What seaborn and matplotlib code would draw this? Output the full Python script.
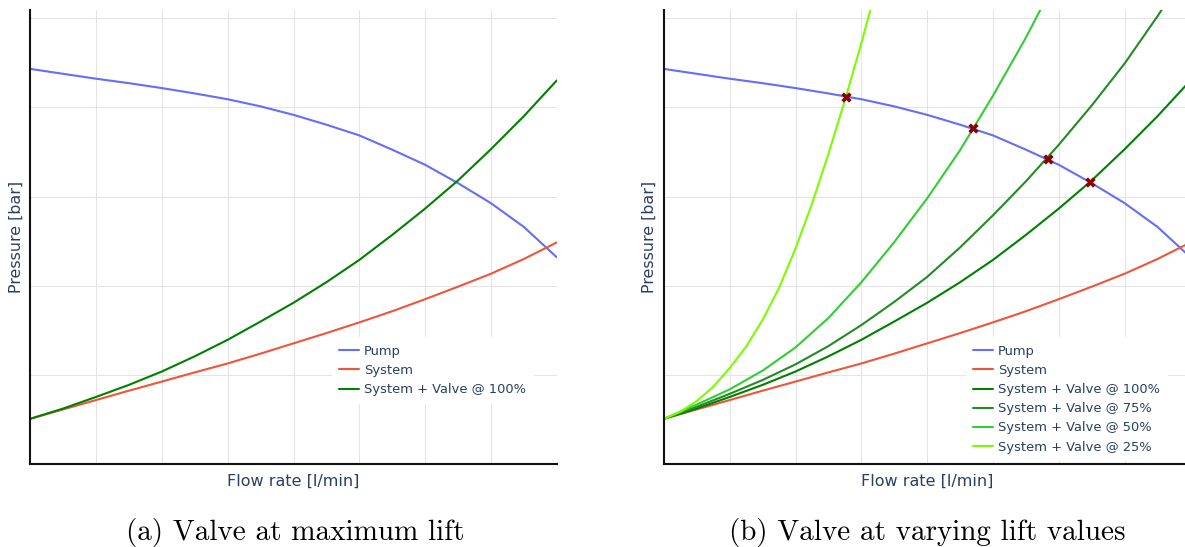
import numpy as np
import pandas as pd
import matplotlib
matplotlib.use("Agg")
import matplotlib.pyplot as plt
import seaborn as sns

# ---------------- data ----------------
x_half = [0, 0.5, 1, 1.5, 2, 2.5, 3, 3.5, 4, 4.5, 5, 5.5, 6, 6.5, 7, 7.5, 8]
pump = [4.43, 4.375, 4.32, 4.27, 4.215, 4.155, 4.09, 4.01, 3.915, 3.805, 3.685,
        3.525, 3.356, 3.15, 2.926, 2.66, 2.32]
system = [0.51, 0.615, 0.72, 0.825, 0.927, 1.03, 1.13, 1.24, 1.355, 1.47, 1.59,
          1.715, 1.85, 1.99, 2.135, 2.30, 2.485]
valve_100 = [0.51, 0.625, 0.755, 0.89, 1.04, 1.21, 1.395, 1.60, 1.81, 2.04, 2.29,
             2.57, 2.865, 3.18, 3.53, 3.90, 4.30]
valve_75 = [0.51, 0.645, 0.79, 0.945, 1.12, 1.325, 1.56, 1.82, 2.10, 2.43, 2.79,
            3.17, 3.58, 4.02, 4.49, 5.02, 5.58]
x_50 = [0, 0.5, 1, 1.5, 2, 2.5, 3, 3.5, 4, 4.5, 5, 5.5, 6]
valve_50 = [0.51, 0.67, 0.84, 1.05, 1.31, 1.64, 2.04, 2.49, 2.98, 3.52, 4.13, 4.78, 5.49]
x_25 = [0, 0.25, 0.5, 0.75, 1, 1.25, 1.5, 1.75, 2, 2.25, 2.5, 2.75, 3, 3.25]
valve_25 = [0.51, 0.59, 0.71, 0.87, 1.08, 1.32, 1.62, 1.98, 2.42, 2.92, 3.48, 4.08, 4.72, 5.40]

op_x = [2.76, 4.69, 5.84, 6.48]
op_y = [4.11, 3.77, 3.42, 3.16]

names = ["Pump", "System", "System + Valve @ 100%", "System + Valve @ 75%",
         "System + Valve @ 50%", "System + Valve @ 25%"]
colors = ["#636EFA", "#EF553B", "#008000", "#228B22", "#32CD32", "#7CFC00"]

def frame(x, y, name):
    return pd.DataFrame({"Flow": x, "Pressure": y, "Series": name})

df_all = pd.concat([
    frame(x_half, pump, names[0]),
    frame(x_half, system, names[1]),
    frame(x_half, valve_100, names[2]),
    frame(x_half, valve_75, names[3]),
    frame(x_50, valve_50, names[4]),
    frame(x_25, valve_25, names[5]),
], ignore_index=True)
df_ops = pd.DataFrame({"Flow": op_x, "Pressure": op_y})

# ---------------- style ----------------
sns.set_theme(style="white")
plt.rcParams["font.family"] = ["DejaVu Sans"]

W, H = 1185, 547
fig = plt.figure(figsize=(W / 100, H / 100), dpi=100)

def px_axes(left, top, right, bottom):
    return fig.add_axes([left / W, 1 - bottom / H, (right - left) / W, (bottom - top) / H])

ax1 = px_axes(30.3, 10, 556.7, 464.3)
ax2 = px_axes(664, 10, 1190.4, 464.3)

label_color = "#2a3f5f"
grid_color = "#e4e4e4"

def style_axes(ax):
    ax.set_xlim(0, 8)
    ax.set_ylim(0, 5.09)
    ax.set_xticks(range(1, 8))
    ax.set_yticks(range(1, 6))
    ax.set_xticklabels([])
    ax.set_yticklabels([])
    ax.tick_params(length=0, pad=0)
    ax.grid(True, color=grid_color, linewidth=0.75)
    ax.set_axisbelow(True)
    for s in ["top", "right"]:
        ax.spines[s].set_visible(False)
    for s in ["left", "bottom"]:
        ax.spines[s].set_color("#111111")
        ax.spines[s].set_linewidth(1.5)
    ax.set_xlabel("Flow rate [l/min]", color=label_color, fontsize=11.5, labelpad=7)
    ax.set_ylabel("Pressure [bar]", color=label_color, fontsize=11.4, labelpad=5)

# Left panel: pump, system, valve at 100 %
left_names = names[:3]
sns.lineplot(data=df_all[df_all["Series"].isin(left_names)], x="Flow", y="Pressure",
             hue="Series", hue_order=left_names, palette=colors[:3],
             linewidth=1.5, ax=ax1, sort=False, estimator=None)
style_axes(ax1)
h1, l1 = ax1.get_legend_handles_labels()

# Right panel: all lift values + operating points
sns.lineplot(data=df_all, x="Flow", y="Pressure", hue="Series", hue_order=names,
             palette=colors, linewidth=1.5, ax=ax2, sort=False, estimator=None)
sns.scatterplot(data=df_ops, x="Flow", y="Pressure", marker="X", color="#8B0000",
                s=55, linewidth=0, ax=ax2, zorder=5, legend=False)
style_axes(ax2)
h2, l2 = ax2.get_legend_handles_labels()

leg_kw = dict(loc="upper left", bbox_transform=fig.transFigure, borderaxespad=0,
              frameon=True, facecolor="white", edgecolor="none", framealpha=1,
              fancybox=False, fontsize=9.4, handlelength=1.54, handletextpad=0.36,
              labelspacing=0.47, borderpad=0.6, labelcolor=label_color)
leg1 = ax1.legend(h1, l1, bbox_to_anchor=(331.5 / W, 1 - 337 / H), **leg_kw)
leg2 = ax2.legend(h2, l2, bbox_to_anchor=(965.5 / W, 1 - 337 / H), **leg_kw)
for leg in (leg1, leg2):
    for ln in leg.get_lines():
        ln.set_linewidth(1.5)

# Captions
cap_kw = dict(ha="center", va="baseline", fontsize=21, family="cmr10", color="black")
fig.text(295 / W, 1 - 540 / H, "(a) Valve at maximum lift", **cap_kw)
fig.text(927 / W, 1 - 540 / H, "(b) Valve at varying lift values", **cap_kw)

fig.savefig("out.png", dpi=100)
